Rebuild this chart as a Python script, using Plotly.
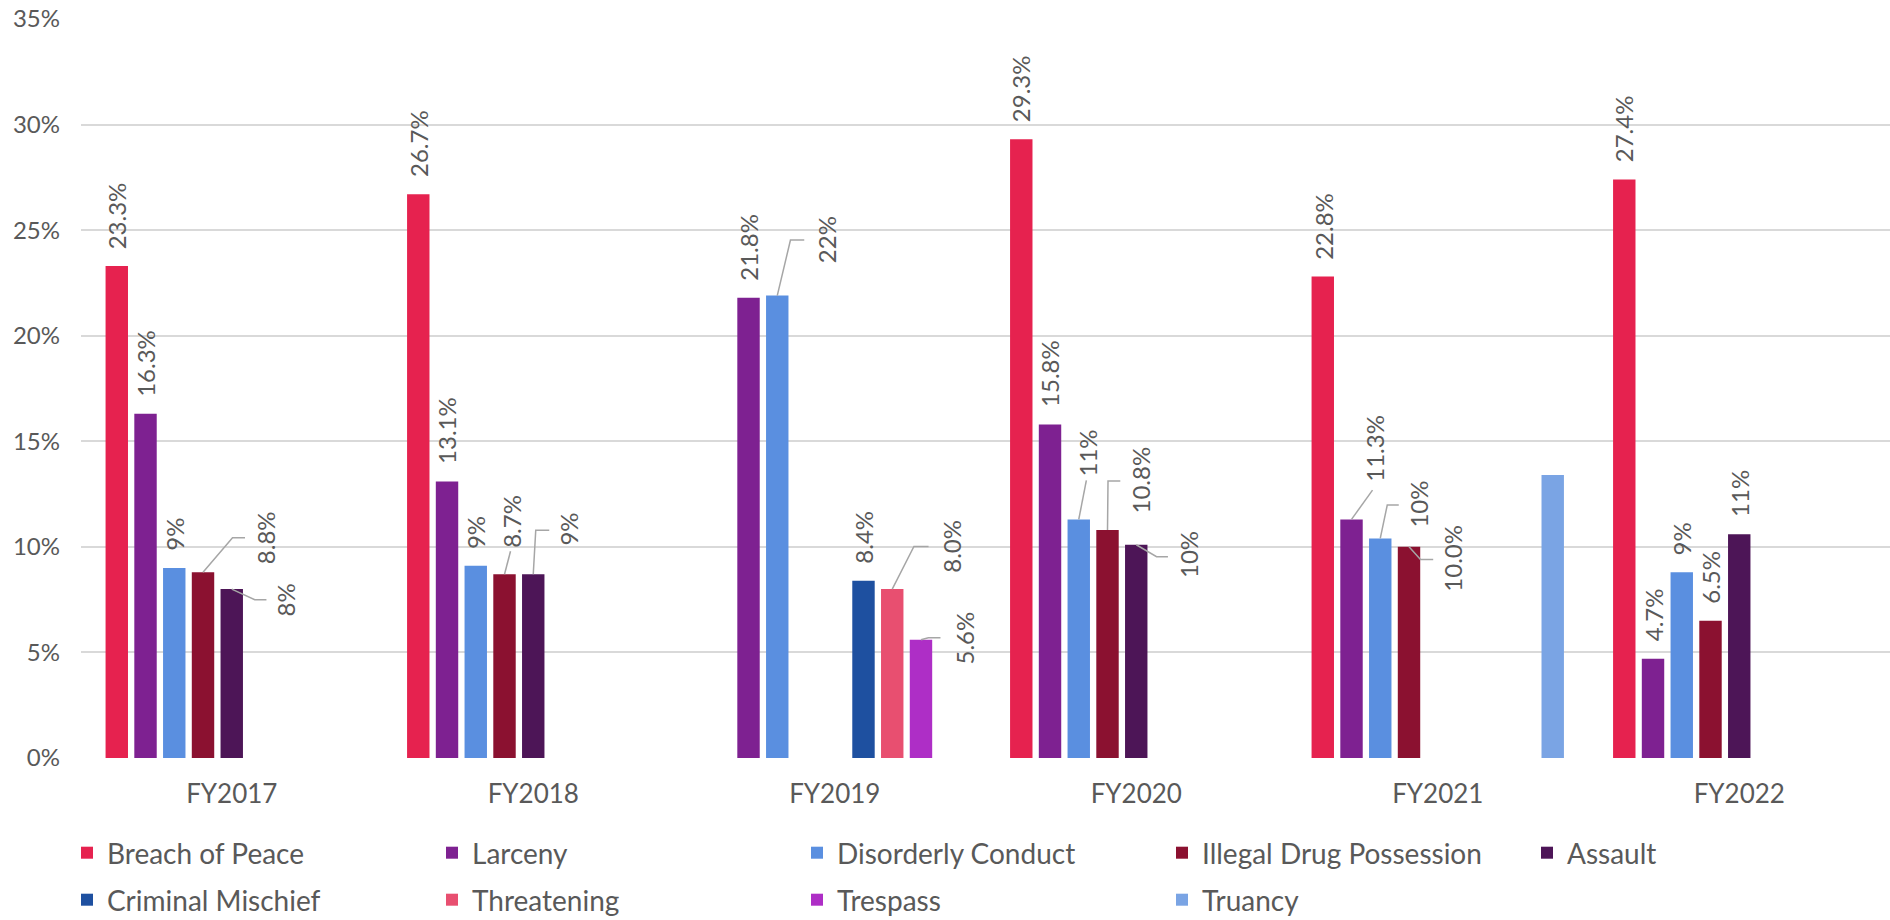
import plotly.graph_objects as go

# ---------------- data ----------------
categories = ["FY2017", "FY2018", "FY2019", "FY2020", "FY2021", "FY2022"]

series_names = ["Breach of Peace", "Larceny", "Disorderly Conduct", "Illegal Drug Possession",
                "Assault", "Criminal Mischief", "Threatening", "Trespass", "Truancy"]

breach = [23.3, 26.7, None, 29.3, 22.8, 27.4]
larceny = [16.3, 13.1, 21.8, 15.8, 11.3, 4.7]
disorderly = [9.0, 9.1, 21.9, 11.3, 10.4, 8.8]
drug = [8.8, 8.7, None, 10.8, 10.0, 6.5]
assault = [8.0, 8.7, None, 10.1, None, 10.6]
mischief = [None, None, 8.4, None, None, None]
threatening = [None, None, 8.0, None, None, None]
trespass = [None, None, 5.6, None, None, None]
truancy = [None, None, None, None, 13.4, None]

breach_lbl = ["23.3%", "26.7%", None, "29.3%", "22.8%", "27.4%"]
larceny_lbl = ["16.3%", "13.1%", "21.8%", "15.8%", "11.3%", "4.7%"]
disorderly_lbl = ["9%", "9%", "22%", "11%", "10%", "9%"]
drug_lbl = ["8.8%", "8.7%", None, "10.8%", "10.0%", "6.5%"]
assault_lbl = ["8%", "9%", None, "10%", None, "11%"]
mischief_lbl = [None, None, "8.4%", None, None, None]
threatening_lbl = [None, None, "8.0%", None, None, None]
trespass_lbl = [None, None, "5.6%", None, None, None]
truancy_lbl = [None, None, None, None, None, None]

y_ticks = [0, 5, 10, 15, 20, 25, 30, 35]
y_tick_text = ["0%", "5%", "10%", "15%", "20%", "25%", "30%", "35%"]

# ---------------- styles ----------------
colors = ["#E6224F", "#7E2191", "#5A8FE0", "#8B1130", "#4D1557",
          "#1E50A0", "#E84F70", "#AE2EC6", "#7AA4E4"]
values = [breach, larceny, disorderly, drug, assault, mischief, threatening, trespass, truancy]
labels = [breach_lbl, larceny_lbl, disorderly_lbl, drug_lbl, assault_lbl,
          mischief_lbl, threatening_lbl, trespass_lbl, truancy_lbl]

FONT = "Lato"
TXT = "#595959"
GRID = "#D9D9D9"
LEADER = "#A6A6A6"

W, H = 1890, 920
M_L, M_R, M_T, M_B = 81, 0, 19, 162
PLOT_W = W - M_L - M_R
PLOT_H = H - M_T - M_B
BARGAP = 0.142
BARGROUPGAP = 0.22
N = len(series_names)

# callout layout (pixel offsets from the bar top centre, screen y down):
# label centre, and elbow path points of the leader line
callouts = {
    (3, 0): dict(label=(62, -34), path=[(29.5, -34.4), (42, -34.4)]),
    (4, 0): dict(label=(54, 10.7), path=[(23, 10.7), (34.7, 10.7)]),
    (4, 1): dict(label=(35, -45), path=[(2.5, -44), (16, -44)]),
    (3, 1): dict(label=(7, -53), path=[(6, -23)]),
    (2, 2): dict(label=(50, -55.7), path=[(13.2, -55.5), (27, -55.5)]),
    (6, 2): dict(label=(59, -42.6), path=[(21.7, -42.6), (36.3, -42.6)]),
    (7, 2): dict(label=(43.5, -1.7), path=[(7.4, -2), (19.5, -2)]),
    (2, 3): dict(label=(9, -66.7), path=[(7.6, -39)]),
    (3, 3): dict(label=(33, -50), path=[(0.5, -49), (12.8, -49)]),
    (4, 3): dict(label=(52, 10), path=[(20.3, 12), (31.7, 12)]),
    (1, 4): dict(label=(22.6, -70.8), path=[(21, -29.3)]),
    (2, 4): dict(label=(38.4, -34.5), path=[(7, -33.4), (18.5, -33.4)]),
    (3, 4): dict(label=(43.3, 11.5), path=[(11.5, 12.7), (24.2, 12.7)]),
}

fig = go.Figure()
for i, (name, vals, col) in enumerate(zip(series_names, values, colors)):
    fig.add_trace(go.Bar(
        x=categories, y=vals, name=name,
        marker=dict(color=col, line=dict(width=0)),
        legend="legend" if i < 5 else "legend2",
        hoverinfo="skip",
    ))

slot = (1 - BARGAP) / N
annotations = []
shapes = []
for i in range(N):
    for j, cat in enumerate(categories):
        v = values[i][j]
        t = labels[i][j]
        if v is None or t is None:
            continue
        xpos = j + (i - (N - 1) / 2) * slot
        if (i, j) in callouts:
            c = callouts[(i, j)]
            dx, dy = c["label"]
            annotations.append(dict(
                x=xpos, y=v, xref="x", yref="y", text=t, showarrow=False,
                textangle=-90, xanchor="center", yanchor="middle",
                xshift=dx, yshift=-dy,
                font=dict(family=FONT, size=24, color=TXT)))
            p = "M 0 0 " + " ".join(f"L {px} {-py}" for px, py in c["path"])
            shapes.append(dict(
                type="path", xref="x", yref="y", xsizemode="pixel", ysizemode="pixel",
                xanchor=xpos, yanchor=v, path=p,
                line=dict(color=LEADER, width=1.5), layer="above"))
        else:
            annotations.append(dict(
                x=xpos, y=v, xref="x", yref="y", text=t, showarrow=False,
                textangle=-90, xanchor="center", yanchor="bottom", yshift=15,
                font=dict(family=FONT, size=24, color=TXT)))

legend_common = dict(
    orientation="h", xref="paper", yref="paper",
    x=-14 / PLOT_W, xanchor="left", yanchor="middle",
    entrywidth=320, entrywidthmode="pixels",
    font=dict(family=FONT, size=28, color=TXT),
    bgcolor="rgba(0,0,0,0)", itemclick=False, itemdoubleclick=False,
    traceorder="normal",
)

fig.update_layout(
    width=W, height=H,
    margin=dict(l=M_L, r=M_R, t=M_T, b=M_B, pad=0, autoexpand=False),
    paper_bgcolor="white", plot_bgcolor="white",
    barmode="group", bargap=BARGAP, bargroupgap=BARGROUPGAP,
    font=dict(family=FONT, color=TXT, size=26),
    showlegend=True,
    legend=dict(legend_common, y=-(853 - (H - M_B)) / PLOT_H),
    legend2=dict(legend_common, y=-(900 - (H - M_B)) / PLOT_H),
    xaxis=dict(
        type="category", categoryorder="array", categoryarray=categories,
        range=[-0.5, len(categories) - 0.5],
        showgrid=False, showline=False, zeroline=False, ticks="",
        ticklabelstandoff=18,
        tickfont=dict(family=FONT, size=26, color=TXT),
    ),
    yaxis=dict(
        range=[0, 35], tickmode="array", tickvals=y_ticks, ticktext=y_tick_text,
        showgrid=True, gridcolor=GRID, gridwidth=1.5,
        zeroline=False, showline=False, ticks="",
        ticklabelstandoff=20,
        tickfont=dict(family=FONT, size=24, color=TXT),
    ),
    annotations=annotations,
    shapes=shapes,
)

fig.write_html(
    "out.html",
    config={"displayModeBar": False},
    post_script="document.body.style.margin='0';document.body.style.overflow='hidden';",
)
